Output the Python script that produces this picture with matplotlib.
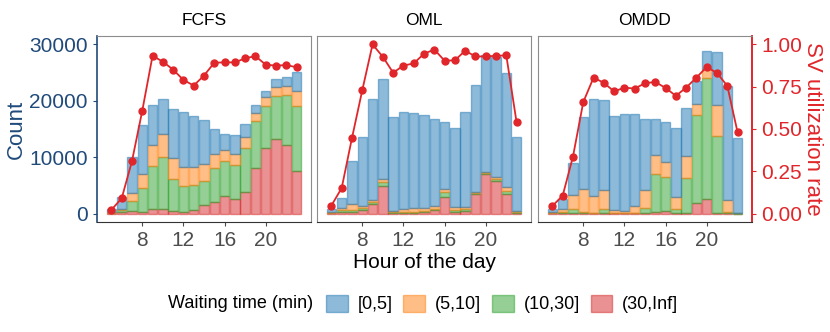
import matplotlib.pyplot as plt
import numpy as np

plt.rcParams['font.family'] = ['Liberation Sans', 'DejaVu Sans']

hours = list(range(5, 24))
hour_ticks = [8, 12, 16, 20]
policies = ['FCFS', 'OML', 'OMDD']
wait_labels = ['[0,5]', '(5,10]', '(10,30]', '(30,Inf]']

# counts per waiting-time bin, per policy
fcfs_30inf = [50, 250, 470, 350, 820, 820, 470, 350, 700, 1470, 2060, 3100, 2600, 3760, 8100, 11650, 13300, 12100, 7500]
fcfs_10_30 = [50, 400, 1730, 4150, 7580, 9180, 5730, 4450, 4300, 4290, 5940, 6300, 6000, 7890, 8250, 7450, 7600, 8950, 11500]
fcfs_5_10 = [100, 150, 1500, 2560, 3700, 4060, 3600, 3440, 3240, 3000, 2500, 1900, 2000, 2000, 1450, 1500, 1600, 1550, 2800]
fcfs_0_5 = [600, 2200, 6330, 8640, 7100, 6340, 8700, 9860, 9110, 7890, 4550, 2900, 3350, 2300, 1400, 1150, 1400, 1650, 3300]

oml_30inf = [50, 300, 350, 650, 1650, 4950, 180, 180, 180, 240, 590, 2880, 240, 530, 3470, 7000, 5820, 3400, 180]
oml_10_30 = [100, 300, 250, 300, 450, 580, 170, 120, 170, 170, 230, 880, 410, 290, 180, 230, 240, 660, 120]
oml_5_10 = [100, 300, 1050, 350, 250, 670, 180, 520, 590, 590, 580, 640, 590, 280, 150, 120, 470, 640, 230]
oml_0_5 = [515, 1900, 7650, 12200, 17950, 17600, 16570, 17240, 16960, 16400, 15400, 11800, 13860, 16950, 19000, 20750, 21270, 20300, 12970]

omdd_30inf = [30, 30, 30, 30, 30, 30, 30, 30, 30, 30, 300, 470, 100, 60, 1940, 2530, 100, 60, 0]
omdd_10_30 = [70, 270, 735, 270, 150, 735, 90, 90, 90, 910, 6700, 6000, 665, 6170, 15560, 21470, 13600, 290, 100]
omdd_5_10 = [200, 465, 2535, 4100, 3020, 3435, 580, 350, 1180, 3260, 3400, 2630, 2135, 3970, 2000, 1650, 5550, 2050, 0]
omdd_0_5 = [465, 1765, 5700, 12800, 17100, 16000, 16550, 17180, 16300, 12560, 6300, 7100, 12350, 8560, 4000, 3110, 9350, 20250, 13370]

fcfs_rate = [0.022, 0.09, 0.31, 0.608, 0.933, 0.898, 0.851, 0.79, 0.757, 0.816, 0.892, 0.894, 0.894, 0.918, 0.931, 0.88, 0.875, 0.878, 0.865]
oml_rate = [0.047, 0.151, 0.447, 0.729, 1.0, 0.927, 0.833, 0.875, 0.888, 0.945, 0.97, 0.904, 0.906, 0.963, 0.929, 0.929, 0.933, 0.935, 0.539]
omdd_rate = [0.045, 0.106, 0.337, 0.659, 0.804, 0.773, 0.722, 0.745, 0.739, 0.771, 0.778, 0.743, 0.696, 0.745, 0.804, 0.867, 0.831, 0.755, 0.48]

counts = {
    'FCFS': [fcfs_0_5, fcfs_5_10, fcfs_10_30, fcfs_30inf],
    'OML': [oml_0_5, oml_5_10, oml_10_30, oml_30inf],
    'OMDD': [omdd_0_5, omdd_5_10, omdd_10_30, omdd_30inf],
}
rates = {'FCFS': fcfs_rate, 'OML': oml_rate, 'OMDD': omdd_rate}

colors = ['tab:blue', 'tab:orange', 'tab:green', 'tab:red']
line_color = '#e0262b'
axis_blue = '#1f4a7a'
scale = 30000  # rate 1.0 <-> 30000 count

fig = plt.figure(figsize=(8.3, 3.32), dpi=100)
lefts = [97 / 830, 317 / 830, 538 / 830]
width = 214 / 830
bottom = 110 / 332
height = 186 / 332

for i, name in enumerate(policies):
    ax = fig.add_axes([lefts[i], bottom, width, height])
    # stack from the longest wait at the bottom up to [0,5] on top
    base = np.zeros(len(hours))
    for j in [3, 2, 1, 0]:
        vals = np.array(counts[name][j])
        ax.bar(hours, vals, bottom=base, width=0.92, color=colors[j], alpha=0.5,
               edgecolor=colors[j], linewidth=1.0, label=wait_labels[j])
        base = base + vals
    ax.plot(hours, np.array(rates[name]) * scale, color=line_color, lw=1.3,
            marker='o', ms=5, zorder=5)

    ax.set_xlim(3.6, 24.4)
    ax.set_ylim(-1500, 31500)
    ax.set_xticks(hour_ticks)
    ax.tick_params(axis='x', labelsize=15, colors='#4d4d4d', length=3)
    ax.set_title(name, fontsize=12.5, pad=8)
    for s in ['top', 'left', 'right']:
        ax.spines[s].set_color('#8c8c8c')
    ax.spines['bottom'].set_color('#333333')

    if i == 0:
        ax.set_yticks([0, 10000, 20000, 30000])
        ax.tick_params(axis='y', labelsize=15, colors=axis_blue, length=3)
        ax.spines['left'].set_color(axis_blue)
        ax.spines['left'].set_linewidth(1.2)
        ax.set_ylabel('Count', fontsize=16, color=axis_blue, labelpad=2)
    else:
        ax.set_yticks([])
    if i == 1:
        ax.set_xlabel('Hour of the day', fontsize=15, labelpad=2)
    if i == 2:
        ax.spines['right'].set_color(line_color)
        ax.spines['right'].set_linewidth(1.2)
        sec = ax.secondary_yaxis('right', functions=(lambda y: y / scale, lambda r: r * scale))
        sec.set_yticks([0, 0.25, 0.5, 0.75, 1.0])
        sec.set_yticklabels(['0.00', '0.25', '0.50', '0.75', '1.00'])
        sec.tick_params(labelsize=15, colors=line_color, length=3)
        sec.spines['right'].set_color(line_color)
        sec.spines['right'].set_linewidth(1.2)
        sec.set_ylabel('SV utilization rate', fontsize=16, color=line_color,
                       rotation=270, va='bottom', labelpad=0)

# legend along the bottom with the title inline
handles, labels = ax.get_legend_handles_labels()
order = [3, 2, 1, 0]
legend_y = 1 - 304 / 332
fig.text(168 / 830, legend_y, 'Waiting time (min)', fontsize=13, va='center', ha='left')
fig.legend([handles[k] for k in order], [labels[k] for k in order],
           loc='center left', bbox_to_anchor=(326 / 830, legend_y), ncol=4,
           frameon=False, fontsize=13, handlelength=1.2, handleheight=1.1,
           handletextpad=0.55, columnspacing=0.6, borderpad=0, borderaxespad=0)

fig.savefig('out.png', dpi=100)
